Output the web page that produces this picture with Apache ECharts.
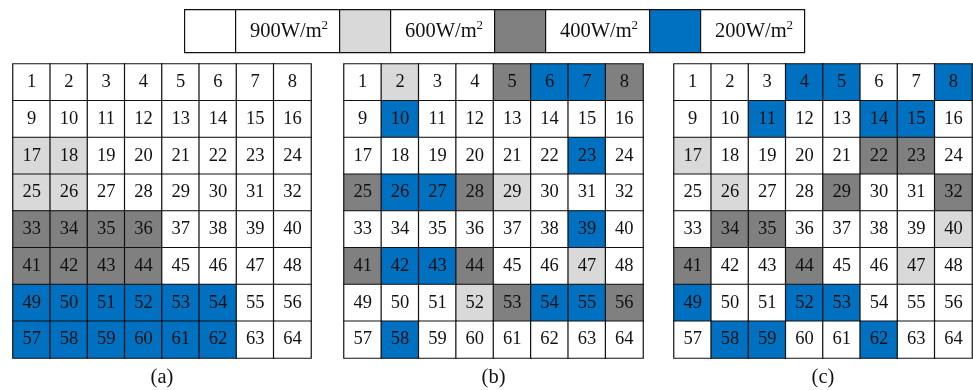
<!DOCTYPE html>
<html>
<head>
<meta charset="utf-8">
<script src="https://cdn.jsdelivr.net/npm/echarts@6/dist/echarts.min.js"></script>
<style>html,body{margin:0;padding:0;background:#fff;}#c{width:973px;height:390px;}</style>
</head>
<body>
<div id="c"></div>
<script>
// Irradiance levels (W/m^2) and legend labels
const levels = [900, 600, 400, 200];
const levelLabels = ['900W/m', '600W/m', '400W/m', '200W/m'];
const levelColors = ['#FFFFFF', '#D9D9D9', '#808080', '#0070C0'];
const panelLabels = ['(a)', '(b)', '(c)'];
const colCats = ['1','2','3','4','5','6','7','8'];
const rowCats = ['1','2','3','4','5','6','7','8'];

// Panel (a): irradiance per cell, row by row (cells 1..64)
const irrA = [
  900,900,900,900,900,900,900,900,
  900,900,900,900,900,900,900,900,
  600,600,900,900,900,900,900,900,
  600,600,900,900,900,900,900,900,
  400,400,400,400,900,900,900,900,
  400,400,400,400,900,900,900,900,
  200,200,200,200,200,200,900,900,
  200,200,200,200,200,200,900,900
];
// Panel (b)
const irrB = [
  900,600,900,900,400,200,200,400,
  900,200,900,900,900,900,900,900,
  900,900,900,900,900,900,200,900,
  400,200,200,400,600,900,900,900,
  900,900,900,900,900,900,200,900,
  400,200,200,400,900,900,600,900,
  900,900,900,600,400,200,200,400,
  900,200,900,900,900,900,900,900
];
// Panel (c)
const irrC = [
  900,900,900,200,200,900,900,200,
  900,900,200,900,900,200,200,900,
  600,900,900,900,900,400,400,900,
  900,600,900,900,400,900,900,400,
  900,400,400,900,900,900,900,600,
  400,900,900,400,900,900,600,900,
  200,900,900,200,200,900,900,900,
  900,200,200,900,900,200,900,900
];

const panels = [irrA, irrB, irrC];
const gridLefts = [13, 344, 674];
const gridWidths = [298, 299, 298];
const gridTop = 64, gridHeight = 294;
const FONT = '"Liberation Serif", "Times New Roman", serif';

const grids = [], xAxes = [], yAxes = [], series = [];
panels.forEach((arr, p) => {
  grids.push({left: gridLefts[p], top: gridTop, width: gridWidths[p], height: gridHeight});
  xAxes.push({type: 'category', gridIndex: p, data: colCats, show: false});
  yAxes.push({type: 'category', gridIndex: p, data: rowCats, inverse: true, show: false});
  const data = arr.map((v, i) => [i % 8, Math.floor(i / 8), v]);
  series.push({
    type: 'heatmap', xAxisIndex: p, yAxisIndex: p, data: data,
    itemStyle: {borderColor: '#111', borderWidth: 1.2},
    label: {
      show: true, color: '#111', fontFamily: FONT, fontSize: 18.5,
      formatter: (prm) => String(prm.data[1] * 8 + prm.data[0] + 1)
    },
    emphasis: {disabled: true}
  });
});

// Legend drawn as graphic boxes built from the level arrays
const legLeft = 184, legTop = 9, swW = 51, txtW = 104, legH = 43;
const graphics = [];
levels.forEach((lv, i) => {
  const x0 = legLeft + i * (swW + txtW);
  graphics.push({type: 'rect', left: x0, top: legTop, shape: {width: swW, height: legH},
    style: {fill: levelColors[i], stroke: '#111', lineWidth: 1.2}});
  graphics.push({type: 'rect', left: x0 + swW, top: legTop, shape: {width: txtW, height: legH},
    style: {fill: '#fff', stroke: '#111', lineWidth: 1.2}});
  graphics.push({type: 'text', x: x0 + swW + txtW / 2 + 2, y: legTop + legH / 2 + 1,
    style: {
      text: levelLabels[i] + '{sup|2}',
      fontFamily: FONT, fontSize: 20.5, lineHeight: 24, fill: '#111',
      align: 'center', verticalAlign: 'middle',
      rich: {sup: {fontFamily: FONT, fontSize: 13, lineHeight: 13, verticalAlign: 'top', fill: '#111'}}
    }});
});
panelLabels.forEach((t, p) => {
  graphics.push({type: 'text', x: gridLefts[p] + gridWidths[p] / 2, y: 378,
    style: {text: t, fontFamily: FONT, fontSize: 20.5, fill: '#111', align: 'center', verticalAlign: 'middle'}});
});

const chart = echarts.init(document.getElementById('c'));
chart.setOption({
  animation: false,
  backgroundColor: '#fff',
  grid: grids, xAxis: xAxes, yAxis: yAxes,
  visualMap: {
    type: 'piecewise', show: false, seriesIndex: [0, 1, 2],
    pieces: levels.map((lv, i) => ({value: lv, color: levelColors[i]}))
  },
  series: series,
  graphic: graphics
});
</script>
</body>
</html>
